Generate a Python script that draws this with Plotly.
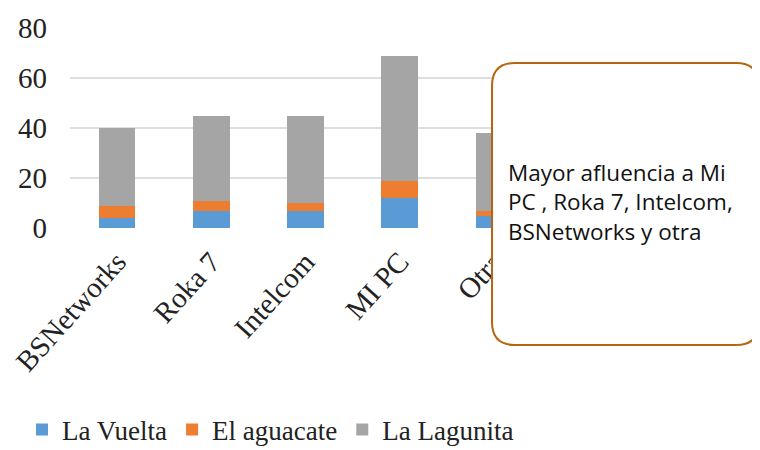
import plotly.graph_objects as go

categories = ["BSNetworks", "Roka 7", "Intelcom", "MI PC", "Otra"]
la_vuelta = [4, 7, 7, 12, 5]
el_aguacate = [5, 4, 3, 7, 2]
la_lagunita = [31, 34, 35, 50, 31]
y_ticks = [0, 20, 40, 60, 80]
note_text = "Mayor afluencia a Mi<br>PC , Roka 7, Intelcom,<br>BSNetworks y otra"

# page body has an 8px offset; figure coordinates = reference pixels - 8
OFF = 8
W, H = 760 - OFF, 450 - OFF
L, R, T, B = 70 - OFF, 760 - 541, 28 - OFF, 450 - 228
pw, ph = W - L - R, H - T - B

fig = go.Figure()
for name, vals, col in [("La Vuelta", la_vuelta, "#5b9bd5"),
                        ("El aguacate", el_aguacate, "#ed7d31"),
                        ("La Lagunita", la_lagunita, "#a5a5a5")]:
    fig.add_trace(go.Bar(name=name, x=categories, y=vals, marker=dict(color=col, line=dict(width=0))))

def px2paper(x, y):
    # x, y are reference pixels
    return (x - OFF - L) / pw, (H - B - (y - OFF)) / ph

bx0, by0, bx1, by1, r = 492, 63, 759, 345, 23
def P(x, y):
    a, b = px2paper(x, y)
    return f"{a:.4f},{b:.4f}"
path = (f"M {P(bx0 + r, by0)} L {P(bx1 - r, by0)} Q {P(bx1, by0)} {P(bx1, by0 + r)} "
        f"L {P(bx1, by1 - r)} Q {P(bx1, by1)} {P(bx1 - r, by1)} "
        f"L {P(bx0 + r, by1)} Q {P(bx0, by1)} {P(bx0, by1 - r)} "
        f"L {P(bx0, by0 + r)} Q {P(bx0, by0)} {P(bx0 + r, by0)} Z")
fig.add_shape(type="path", path=path, xref="paper", yref="paper", layer="above",
              fillcolor="white", line=dict(color="#b8650f", width=2))

tx, ty = px2paper(506, 202)
fig.add_annotation(x=tx, y=ty, xref="paper", yref="paper", text=note_text,
                   showarrow=False, xanchor="left", yanchor="middle", align="left",
                   font=dict(family="Open Sans", size=22.5, color="#111"))

lx, ly = px2paper(22, 430)
fig.update_layout(
    barmode="stack", bargap=0.61,
    width=W, height=H, margin=dict(l=L, r=R, t=T, b=B, pad=0, autoexpand=False),
    paper_bgcolor="white", plot_bgcolor="white",
    showlegend=True,
    legend=dict(orientation="h", x=lx, y=ly, xanchor="left", yanchor="middle",
                font=dict(family="Liberation Serif", size=27, color="#222"),
                itemwidth=30, traceorder="normal"),
    xaxis=dict(tickangle=-48, tickfont=dict(family="Liberation Serif", size=29, color="#222"),
               showgrid=False, showline=False, ticks="", automargin=False, ticklabelstandoff=10),
    yaxis=dict(range=[0, 80], tickvals=y_ticks, tickfont=dict(family="Liberation Serif", size=29, color="#222"),
               showgrid=True, gridcolor="#dedede", gridwidth=1.5, zeroline=False, showline=False,
               ticklabelstandoff=22, automargin=False),
)
fig.write_html("out.html")
